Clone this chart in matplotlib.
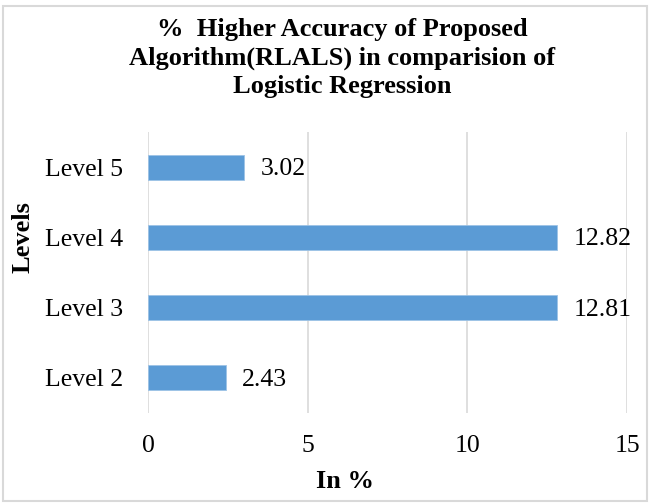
import matplotlib.pyplot as plt
from matplotlib.patches import Rectangle

plt.rcParams['font.family'] = ['Liberation Serif', 'DejaVu Serif']

levels = ['Level 2', 'Level 3', 'Level 4', 'Level 5']
gains = [2.43, 12.81, 12.82, 3.02]
x_ticks = [0, 5, 10, 15]

fig = plt.figure(figsize=(6.5, 5.04), dpi=100)
ax = fig.add_axes([148 / 650, 1 - 413 / 504, 479 / 650, 281 / 504])

ax.barh(levels, gains, height=0.355, color='#5B9BD5', edgecolor='#9DC3E6', linewidth=0.6, zorder=3)
for i, v in enumerate(gains):
    ax.annotate(str(v), (v, i), xytext=(12, -1.5), textcoords='offset points',
                ha='left', va='center', fontsize=18.5)

ax.set_xlim(0, 15)
ax.set_ylim(-0.5, 3.5)
ax.set_xticks(x_ticks)
ax.set_xticklabels([str(t) for t in x_ticks])
ax.tick_params(axis='both', length=0, labelsize=18.5)
ax.tick_params(axis='y', pad=18)
ax.tick_params(axis='x', pad=16)
ax.grid(axis='x', color='#D9D9D9', linewidth=1.2, zorder=0)
for s in ax.spines.values():
    s.set_visible(False)

fig.text(342 / 650, 1 - 58 / 504,
         '%  Higher Accuracy of Proposed\nAlgorithm(RLALS) in comparision of\nLogistic Regression',
         ha='center', va='center', fontsize=19, fontweight='bold', linespacing=1.32)
fig.text(23 / 650, 1 - 237 / 504, 'Levels', rotation=90, ha='center', va='center',
         fontsize=19, fontweight='bold')
fig.text(345 / 650, 1 - 481 / 504, 'In %', ha='center', va='center',
         fontsize=19, fontweight='bold')

# light frame round the whole chart
fig.patches.append(Rectangle((3 / 650, 3 / 504), 644 / 650, 495 / 504, transform=fig.transFigure,
                             fill=False, edgecolor='#D9D9D9', linewidth=1.5))

fig.savefig('out.png', dpi=100)
